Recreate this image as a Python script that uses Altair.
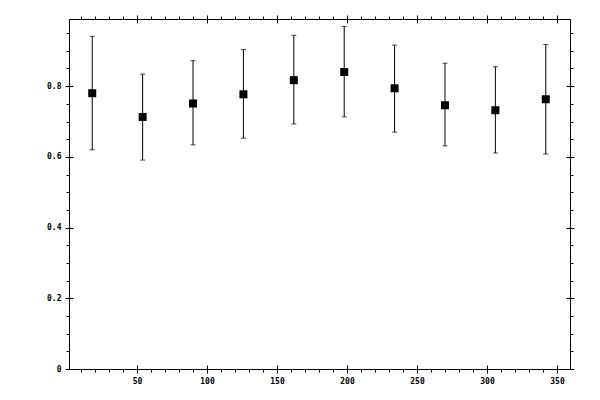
import pandas as pd
import altair as alt

# values
x_vals = [18, 54, 90, 126, 162, 198, 234, 270, 306, 342]
y_vals = [0.780, 0.713, 0.751, 0.777, 0.817, 0.840, 0.794, 0.746, 0.732, 0.763]
y_low = [0.620, 0.591, 0.634, 0.653, 0.693, 0.713, 0.670, 0.631, 0.611, 0.608]
y_high = [0.941, 0.834, 0.872, 0.904, 0.944, 0.969, 0.916, 0.865, 0.855, 0.918]

x_major = [50, 100, 150, 200, 250, 300, 350]
x_minor = list(range(10, 360, 10))
y_major = [0, 0.2, 0.4, 0.6, 0.8]
y_minor = [round(i * 0.05, 2) for i in range(0, 20)]

df = pd.DataFrame({'x': x_vals, 'y': y_vals, 'lo': y_low, 'hi': y_high})

xs = alt.Scale(domain=[1.4, 359.3], nice=False, zero=False)
ys = alt.Scale(domain=[0, 0.99], nice=False, zero=False)

base = alt.Chart(df)


def axis_layer(x_axis, y_axis):
    return base.mark_point(opacity=0).encode(
        x=alt.X('x:Q', scale=xs, axis=x_axis),
        y=alt.Y('y:Q', scale=ys, axis=y_axis),
    )


def ax(orient, values, size, labels=False, domain=False, offset=0, fmt=None):
    kw = dict(orient=orient, values=values, tickSize=size, labels=labels,
              domain=domain, title=None, grid=False, offset=offset)
    if fmt:
        kw['format'] = fmt
    return alt.Axis(**kw)


# main ticks + labels
main = axis_layer(
    ax('bottom', x_major, 4, labels=True, domain=True),
    ax('left', y_major, 4, labels=True, domain=True, fmt='.1~f'),
)
minor_bl = axis_layer(ax('bottom', x_minor, 3), ax('left', y_minor, 3))
inner_bl = axis_layer(ax('bottom', x_major, 4, offset=-4), ax('left', y_major, 4, offset=-4))
main_tr = axis_layer(ax('top', x_major, 4, domain=True), ax('right', y_major, 4, domain=True))
minor_tr = axis_layer(ax('top', x_minor, 3), ax('right', y_minor, 3))
inner_tr = axis_layer(ax('top', x_major, 4, offset=-4), ax('right', y_major, 4, offset=-4))

bars = base.mark_rule(color='black', strokeWidth=1).encode(
    x=alt.X('x:Q', scale=xs, axis=None),
    y=alt.Y('lo:Q', scale=ys, axis=None),
    y2='hi:Q',
)
cap_hi = base.mark_tick(orient='horizontal', size=5, thickness=1, color='black').encode(
    x=alt.X('x:Q', scale=xs, axis=None),
    y=alt.Y('hi:Q', scale=ys, axis=None),
)
cap_lo = base.mark_tick(orient='horizontal', size=5, thickness=1, color='black').encode(
    x=alt.X('x:Q', scale=xs, axis=None),
    y=alt.Y('lo:Q', scale=ys, axis=None),
)
points = base.mark_square(size=64, color='black', opacity=1).encode(
    x=alt.X('x:Q', scale=xs, axis=None),
    y=alt.Y('y:Q', scale=ys, axis=None),
)

chart = alt.layer(
    main, minor_bl, inner_bl, main_tr, minor_tr, inner_tr,
    bars, cap_hi, cap_lo, points
).resolve_axis(
    x='independent', y='independent'
).properties(
    width=501,
    height=350,
    padding={'left': 61, 'top': 11, 'right': 20, 'bottom': 30},
    autosize=alt.AutoSizeParams(type='none'),
).configure_axis(
    domainColor='black',
    tickColor='black',
    domainWidth=1,
    tickWidth=1,
    labelColor='black',
    labelFont='DejaVu Sans Mono',
    labelFontSize=8,
    labelFontWeight='bold',
    labelPadding=4,
).configure_view(
    stroke=None
)

chart.save("out.html", embed_options={"renderer": "svg", "actions": False})
